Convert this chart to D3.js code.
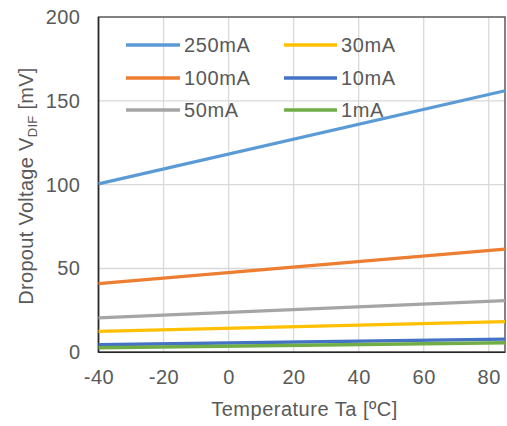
<!DOCTYPE html>
<html><head><meta charset="utf-8">
<script src="https://cdn.jsdelivr.net/npm/d3@7"></script>
<style>
html,body{margin:0;padding:0;background:#fff;}
text{font-family:"Liberation Sans",Arial,sans-serif;fill:#595959;}
</style></head>
<body>
<svg id="chart" width="507" height="426"></svg>
<script>
const temps = [-40, 85];
const seriesNames = ["250mA", "100mA", "50mA", "30mA", "10mA", "1mA"];
const v250 = [100.5, 156];
const v100 = [41, 61.5];
const v50 = [20.5, 30.8];
const v30 = [12.5, 18.3];
const v10 = [4.5, 7.9];
const v1 = [2.7, 5.7];
const colors = ["#5B9BD5", "#ED7D31", "#A5A5A5", "#FFC000", "#4472C4", "#70AD47"];
const xTicks = [-40, -20, 0, 20, 40, 60, 80];
const yTicks = [0, 50, 100, 150, 200];
const xTitle = "Temperature Ta [ºC]";

const series = [v250, v100, v50, v30, v10, v1].map((vals, i) => ({
  name: seriesNames[i], color: colors[i],
  pts: temps.map((t, j) => [t, vals[j]])
}));

const svg = d3.select("#chart");
const L = 98.5, R = 505, T = 17, B = 352.3;
const x = d3.scaleLinear().domain([-40, 85]).range([L, R]);
const y = d3.scaleLinear().domain([0, 200]).range([B, T]);

// gridlines
svg.append("g").selectAll("line").data(xTicks.slice(1)).join("line")
  .attr("x1", d => x(d)).attr("x2", d => x(d)).attr("y1", T).attr("y2", B)
  .attr("stroke", "#d9d9d9").attr("stroke-width", 1.3);
svg.append("g").selectAll("line").data(yTicks.slice(1, -1)).join("line")
  .attr("x1", L).attr("x2", R).attr("y1", d => y(d)).attr("y2", d => y(d))
  .attr("stroke", "#d9d9d9").attr("stroke-width", 1.3);

// axes labels via d3 axes
const xAxis = svg.append("g").attr("transform", `translate(0,${B})`)
  .call(d3.axisBottom(x).tickValues(xTicks).tickFormat(d => String(d)).tickSize(0).tickPadding(18));
xAxis.select(".domain").remove();
xAxis.selectAll("text").attr("font-size", 20).attr("fill", "#595959")
  .style("font-family", "Liberation Sans, Arial, sans-serif").attr("letter-spacing", "0.5px");

const yAxis = svg.append("g").attr("transform", `translate(${L},0)`)
  .call(d3.axisLeft(y).tickValues(yTicks).tickFormat(d => String(d)).tickSize(0).tickPadding(18));
yAxis.select(".domain").remove();
yAxis.selectAll("text").attr("font-size", 20).attr("fill", "#595959")
  .style("font-family", "Liberation Sans, Arial, sans-serif").attr("letter-spacing", "0.5px");

// plot box
svg.append("rect").attr("x", L).attr("y", T).attr("width", R - L).attr("height", B - T)
  .attr("fill", "none").attr("stroke", "#595959").attr("stroke-width", 1.5);
svg.append("line").attr("x1", L).attr("x2", R).attr("y1", B).attr("y2", B)
  .attr("stroke", "#262626").attr("stroke-width", 1.5);
svg.append("line").attr("x1", L).attr("x2", L).attr("y1", T).attr("y2", B)
  .attr("stroke", "#262626").attr("stroke-width", 1.5);

// lines
const line = d3.line().x(d => x(d[0])).y(d => y(d[1]));
svg.append("g").selectAll("path").data(series).join("path")
  .attr("d", d => line(d.pts)).attr("fill", "none")
  .attr("stroke", d => d.color).attr("stroke-width", 3.3);

// legend
const legCols = [{x1: 126, x2: 180, tx: 184}, {x1: 284, x2: 337, tx: 341}];
const legRows = [45, 78, 110];
const leg = svg.append("g");
series.forEach((s, i) => {
  const c = legCols[Math.floor(i / 3)], r = legRows[i % 3];
  leg.append("line").attr("x1", c.x1).attr("x2", c.x2).attr("y1", r).attr("y2", r)
    .attr("stroke", s.color).attr("stroke-width", 3.3);
  leg.append("text").attr("x", c.tx).attr("y", r + 7).attr("font-size", 20)
    .attr("letter-spacing", "0.6px").text(s.name);
});

// axis titles
svg.append("text").attr("x", 304.5).attr("y", 416).attr("text-anchor", "middle")
  .attr("font-size", 20).attr("letter-spacing", "0.5px").text(xTitle);

const yt = svg.append("text").attr("transform", "translate(33,186) rotate(-90)")
  .attr("text-anchor", "middle").attr("font-size", 20).attr("letter-spacing", "0.3px");
yt.append("tspan").text("Dropout Voltage V");
yt.append("tspan").attr("font-size", 13).attr("dy", 4).text("DIF");
yt.append("tspan").attr("dy", -4).text(" [mV]");
</script>
</body></html>
